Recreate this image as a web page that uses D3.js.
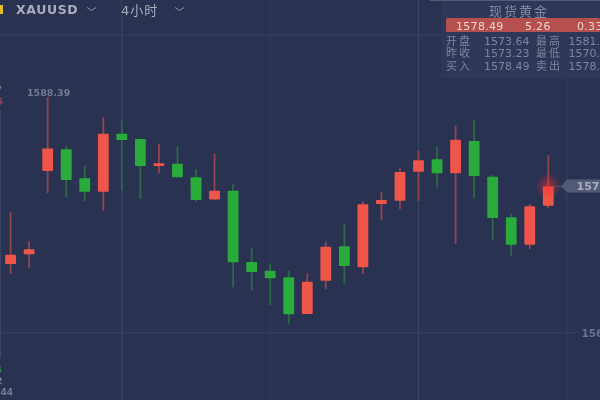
<!DOCTYPE html>
<html lang="zh">
<head>
<meta charset="UTF-8">
<title>XAUUSD 4小时</title>
<script src="https://d3js.org/d3.v7.min.js"></script>
<style>
    html, body { margin: 0; padding: 0; background: #2a3252; overflow: hidden; }
    svg { display: block; filter: blur(0.5px); }
    text { font-family: "DejaVu Sans", "Noto Sans CJK SC", sans-serif; }
</style>
</head>
<body>
<script>
const width = 600;
const height = 400;

// candle values
const opens = [1569.88, 1570.95, 1580.19, 1582.59, 1579.38, 1577.89, 1584.32, 1583.73, 1580.74, 1581.00,
    1579.49, 1577.03, 1578.00, 1570.10, 1569.13, 1568.40, 1564.33, 1568.02, 1571.84, 1569.51,
    1576.53, 1576.89, 1580.11, 1581.48, 1579.93, 1583.51, 1579.55, 1575.05, 1572.02, 1576.34];
const closes = [1570.91, 1571.51, 1582.68, 1579.19, 1577.89, 1584.32, 1583.62, 1580.74, 1581.04, 1579.49,
    1576.97, 1578.00, 1570.06, 1568.99, 1568.29, 1564.30, 1567.91, 1571.79, 1569.65, 1576.49,
    1576.97, 1580.08, 1581.37, 1579.93, 1583.66, 1579.63, 1574.98, 1572.02, 1576.27, 1578.49];
const highs = [1575.64, 1572.43, 1588.39, 1582.99, 1580.74, 1586.14, 1585.84, 1583.81, 1583.21, 1582.96,
    1580.41, 1582.13, 1578.71, 1571.62, 1569.95, 1569.13, 1568.84, 1572.35, 1574.31, 1576.78,
    1577.86, 1580.49, 1582.44, 1582.88, 1585.18, 1585.84, 1579.74, 1575.42, 1576.53, 1581.93];
const lows = [1568.77, 1569.43, 1577.75, 1577.30, 1576.86, 1575.78, 1578.00, 1577.08, 1579.93, 1579.49,
    1576.78, 1577.03, 1567.29, 1566.96, 1565.33, 1563.19, 1564.33, 1567.10, 1567.69, 1568.77,
    1574.72, 1575.94, 1576.86, 1578.33, 1572.09, 1577.16, 1572.54, 1570.80, 1571.51, 1576.05];

const gridPrices = [1595.25, 1578.75, 1562.25];
const gridCandles = [6, 14, 22, 30];
const lastPrice = 1578.49;
const maxPrice = 1588.39;

const panelTitle = "现货黄金";
const quote = ["1578.49", "5.26", "0.33%"];
const panelRows = [
    ["开盘", "1573.64", "最高", "1581.93"],
    ["昨收", "1573.23", "最低", "1570.21"],
    ["买入", "1578.49", "卖出", "1578.89"]
];

const x = d3.scaleLinear().domain([0, 29]).range([10.6, 548.3]);
const y = d3.scaleLinear().domain([lastPrice, maxPrice]).range([186.3, 97]);
const bodyWidth = 10.8;

const RED = "#ef5548", GREEN = "#2aac3c";
const RED_WICK = "#92454f", GREEN_WICK = "#2a6a48";

const svg = d3.select("body").append("svg")
    .attr("width", width)
    .attr("height", height);

const defs = svg.append("defs");
const glow = defs.append("radialGradient").attr("id", "glow");
glow.append("stop").attr("offset", "0%").attr("stop-color", "#ff2a2a").attr("stop-opacity", 0.55);
glow.append("stop").attr("offset", "100%").attr("stop-color", "#ff2a2a").attr("stop-opacity", 0);

// grid
const gridOpacity = [0.75, 0.28, 0.75];
svg.append("g").selectAll("line")
    .data(gridPrices)
    .join("line")
    .attr("x1", 0).attr("x2", 576)
    .attr("y1", d => y(d)).attr("y2", d => y(d))
    .attr("stroke", "#3d4565")
    .attr("stroke-opacity", (d, i) => gridOpacity[i]);

const gridColOpacity = [1, 0.4, 1, 0.7];
svg.append("g").selectAll("line")
    .data(gridCandles)
    .join("line")
    .attr("x1", d => x(d)).attr("x2", d => x(d))
    .attr("y1", 0).attr("y2", height)
    .attr("stroke", "#3d4565")
    .attr("stroke-opacity", (d, i) => gridColOpacity[i]);

svg.append("line")
    .attr("x1", 0.5).attr("x2", 0.5).attr("y1", 110).attr("y2", 358)
    .attr("stroke", "#3d4565");

// candles
const candles = d3.range(opens.length).map(i => ({
    i, open: opens[i], close: closes[i], high: highs[i], low: lows[i], up: closes[i] >= opens[i]
}));

svg.append("g").selectAll("line")
    .data(candles)
    .join("line")
    .attr("x1", d => x(d.i)).attr("x2", d => x(d.i))
    .attr("y1", d => y(d.high)).attr("y2", d => y(d.low))
    .attr("stroke", d => d.up ? RED_WICK : GREEN_WICK)
    .attr("stroke-width", 1.8);

svg.append("g").selectAll("rect")
    .data(candles)
    .join("rect")
    .attr("x", d => x(d.i) - bodyWidth / 2)
    .attr("width", bodyWidth)
    .attr("y", d => y(Math.max(d.open, d.close)))
    .attr("height", d => Math.abs(y(d.open) - y(d.close)))
    .attr("rx", 0.8)
    .attr("fill", d => d.up ? RED : GREEN);

// last price marker
svg.append("circle")
    .attr("cx", x(29)).attr("cy", y(lastPrice)).attr("r", 13)
    .attr("fill", "url(#glow)");

svg.append("line")
    .attr("x1", x(29) + 5).attr("x2", 563)
    .attr("y1", y(lastPrice)).attr("y2", y(lastPrice))
    .attr("stroke", "#4d5470");

svg.append("path")
    .attr("d", `M561,${y(lastPrice)}L567,179.5H600V192.5H567Z`)
    .attr("fill", "#535a75");

svg.append("text")
    .attr("x", 576.5).attr("y", y(lastPrice) + 4)
    .attr("font-size", 11).attr("font-weight", "bold")
    .attr("fill", "#a9adbd")
    .text(lastPrice.toFixed(2));

// price labels
svg.append("text")
    .attr("x", 581.5).attr("y", y(gridPrices[2]) + 4)
    .attr("font-size", 10.5).attr("font-weight", "bold")
    .attr("fill", "#6a7190")
    .text(gridPrices[2].toFixed(2));

svg.append("text")
    .attr("x", 27).attr("y", 95.5)
    .attr("font-size", 9.5).attr("font-weight", "bold")
    .attr("fill", "#767c90")
    .text(maxPrice.toFixed(2));

const edgeLabels = [
    { t: "1588.7", y: 93, c: "#767c90", x: 2 },
    { t: "0.35", y: 105, c: "#a8474c", x: 3 },
    { t: "0.35", y: 373, c: "#2a8a45", x: 2 },
    { t: "1572", y: 384, c: "#767c90", x: 2.5 },
    { t: "1563.44", y: 395, c: "#767c90", x: 13 }
];
svg.append("g").selectAll("text")
    .data(edgeLabels)
    .join("text")
    .attr("x", d => d.x).attr("y", d => d.y)
    .attr("text-anchor", "end")
    .attr("font-size", 9).attr("font-weight", "bold")
    .attr("fill", d => d.c)
    .text(d => d.t);

// top bar
svg.append("rect")
    .attr("x", 0).attr("y", 5).attr("width", 3).attr("height", 9)
    .attr("fill", "#e8b920");

svg.append("text")
    .attr("x", 16).attr("y", 14)
    .attr("font-size", 12.5)
    .attr("font-weight", "bold")
    .attr("letter-spacing", 0.6)
    .attr("fill", "#a9adbd")
    .text("XAUUSD");

svg.append("text")
    .attr("x", 121).attr("y", 14.5)
    .attr("font-size", 13)
    .attr("letter-spacing", 1)
    .attr("fill", "#a9adbd")
    .text("4小时");

svg.append("g").selectAll("path")
    .data([91.5, 179.5])
    .join("path")
    .attr("d", d => `M${d - 4.5},7.5L${d},10.5L${d + 4.5},7.5`)
    .attr("fill", "none")
    .attr("stroke", "#8a8fa5")
    .attr("stroke-width", 1);

// quote panel
const panel = svg.append("g");
panel.append("rect")
    .attr("x", 441).attr("y", 1).attr("width", 159).attr("height", 77)
    .attr("fill", "#2f3758");
panel.append("rect")
    .attr("x", 430).attr("y", 0).attr("width", 170).attr("height", 1)
    .attr("fill", "#555b72");

panel.append("text")
    .attr("x", 519).attr("y", 16)
    .attr("text-anchor", "middle")
    .attr("font-size", 13)
    .attr("letter-spacing", 2)
    .attr("fill", "#858aa0")
    .text(panelTitle);

panel.append("rect")
    .attr("x", 446).attr("y", 18).attr("width", 154).attr("height", 14)
    .attr("rx", 1.5)
    .attr("fill", "#b5504f");

panel.append("g").selectAll("text")
    .data(quote)
    .join("text")
    .attr("x", (d, i) => [456, 525, 577][i])
    .attr("y", 29.5)
    .attr("font-size", 11)
    .attr("letter-spacing", 0.3)
    .attr("fill", "#e9d5d3")
    .text(d => d);

const rowY = d3.scalePoint().domain([0, 1, 2]).range([44.5, 70]);
const colX = [446, 484, 536, 568.5];
panel.selectAll("g.row")
    .data(panelRows)
    .join("g")
    .attr("class", "row")
    .selectAll("text")
    .data((row, r) => row.map((t, c) => ({ t, c, r })))
    .join("text")
    .attr("x", d => colX[d.c])
    .attr("y", d => rowY(d.r))
    .attr("font-size", d => d.c % 2 ? 11 : 11)
    .attr("letter-spacing", d => d.c % 2 ? 0 : 2)
    .attr("fill", "#7f849c")
    .text(d => d.t);
</script>
</body>
</html>
